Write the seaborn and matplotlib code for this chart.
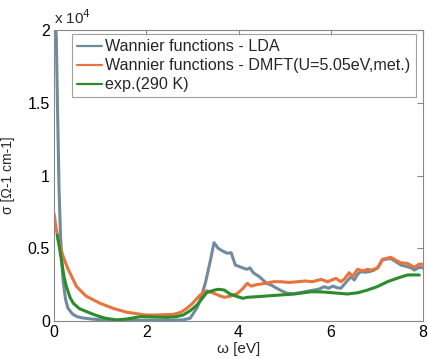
import numpy as np
import pandas as pd
import seaborn as sns
import matplotlib
matplotlib.use("Agg")
import matplotlib.pyplot as plt
from matplotlib.ticker import FuncFormatter

# LDA (Wannier functions)
lda_x = [0.02, 0.05, 0.08, 0.11, 0.14, 0.17, 0.2, 0.25, 0.3, 0.4, 0.5, 0.6, 0.8, 1.0, 1.3, 1.6, 2.0, 2.4, 2.8,
         2.95, 3.1, 3.17, 3.28, 3.38, 3.47, 3.56, 3.66, 3.76, 3.84, 3.93, 4.05, 4.18, 4.25, 4.32, 4.45, 4.61, 4.72,
         4.83, 4.95, 5.06, 5.2, 5.35, 5.5, 5.64, 5.75, 5.86, 5.95, 6.05, 6.12, 6.22, 6.3, 6.44, 6.51, 6.58, 6.65,
         6.75, 6.85, 6.94, 7.03, 7.12, 7.2, 7.3, 7.4, 7.52, 7.66, 7.75, 7.81, 7.92, 8.0]
lda_y = [21000, 19500, 14000, 9000, 6000, 4000, 2700, 1500, 900, 480, 300, 220, 140, 90, 60, 50, 50, 50, 80,
         185, 900, 1440, 2590, 4000, 5380, 4990, 4800, 4650, 4700, 3850, 3700, 3550, 3650, 3320, 3050, 2590, 2450,
         2250, 2050, 1900, 1880, 1950, 2050, 2130, 2200, 2360, 2250, 2400, 2300, 2250, 2550, 3050, 2820, 3200, 3390,
         3350, 3400, 3500, 3700, 4190, 4250, 4300, 4100, 3850, 3730, 3650, 3500, 3690, 3650]

# DMFT (U=5.05eV, met.)
dmft_x = [0.0, 0.05, 0.1, 0.2, 0.3, 0.49, 0.7, 1.0, 1.3, 1.58, 2.0, 2.3, 2.59, 2.75, 2.88, 3.0, 3.17, 3.31, 3.47,
          3.58, 3.69, 3.82, 3.98, 4.1, 4.19, 4.27, 4.4, 4.6, 4.76, 4.92, 5.1, 5.28, 5.45, 5.6, 5.79, 5.93, 6.11,
          6.22, 6.3, 6.4, 6.47, 6.58, 6.7, 6.8, 6.87, 7.01, 7.12, 7.2, 7.3, 7.4, 7.52, 7.66, 7.81, 7.92, 8.0]
dmft_y = [7400, 6300, 5500, 4420, 3600, 2360, 1700, 1215, 850, 600, 410, 420, 460, 600, 870, 1200, 1790, 2080, 1900,
          1750, 1630, 1700, 1900, 2250, 2590, 2400, 2500, 2600, 2700, 2700, 2650, 2700, 2750, 2700, 2860, 2700, 2930,
          2700, 2900, 3320, 3050, 3550, 3450, 3550, 3500, 3620, 4240, 4300, 4380, 4200, 4000, 3960, 3690, 3910, 3900]

# Experiment (290 K)
exp_x = [0.07, 0.12, 0.17, 0.22, 0.27, 0.35, 0.42, 0.55, 0.71, 0.9, 1.1, 1.36, 1.6, 1.87, 2.1, 2.44, 2.65, 2.8,
         2.95, 3.1, 3.2, 3.31, 3.45, 3.56, 3.69, 3.82, 3.95, 4.1, 4.19, 4.4, 4.65, 4.92, 5.2, 5.57, 5.8, 6.0, 6.2,
         6.36, 6.6, 6.8, 7.0, 7.23, 7.45, 7.66, 7.8, 7.92]
exp_y = [5900, 5000, 4000, 3000, 2360, 1600, 1215, 850, 640, 400, 200, 70, 150, 300, 280, 250, 300, 410,
         700, 1100, 1500, 1950, 2100, 2180, 2130, 1850, 1700, 1560, 1630, 1670, 1730, 1790, 1850, 2010, 2000, 1950, 1900,
         1855, 1950, 2130, 2350, 2700, 2950, 3160, 3170, 3160]

labels = ["Wannier functions - LDA", "Wannier functions - DMFT(U=5.05eV,met.)", "exp.(290 K)"]
colors = ["#708b9e", "#e8733c", "#2a8c2a"]

frames = []
for lab, xs, ys in zip(labels, [lda_x, dmft_x, exp_x], [lda_y, dmft_y, exp_y]):
    frames.append(pd.DataFrame({"omega": xs, "sigma": ys, "series": lab}))
df = pd.concat(frames, ignore_index=True)

sns.set_style("white")
plt.rcParams['font.family'] = ['Liberation Sans', 'DejaVu Sans']

fig = plt.figure(figsize=(4.28, 3.59), dpi=100)
ax = fig.add_axes([54 / 428, 1 - 321 / 359, 369 / 428, 291 / 359])

sns.lineplot(data=df, x="omega", y="sigma", hue="series", hue_order=labels,
             palette=colors, linewidth=2.2, sort=False, estimator=None, ax=ax)

ax.set_xlim(0, 8)
ax.set_ylim(0, 20000)
ax.set_xticks([0, 2, 4, 6, 8])
ax.set_yticks([0, 5000, 10000, 15000, 20000])
ax.yaxis.set_major_formatter(FuncFormatter(lambda v, p: "%g" % (v / 1e4)))
ax.tick_params(direction="in", length=4, color="#888888", labelsize=11.5, top=True, right=True,
               pad=3, labelcolor="black")
for s in ax.spines.values():
    s.set_color("#888888")
    s.set_linewidth(0.8)

ax.set_xlabel("ω [eV]", fontsize=11, labelpad=1)
ax.set_ylabel("σ [Ω-1 cm-1]", fontsize=10, labelpad=9)
ax.text(0.0, 1.01, "x 10$^4$", transform=ax.transAxes, fontsize=11, ha="left", va="bottom")

leg = ax.legend(loc="upper left", bbox_to_anchor=(0.05, 0.985), frameon=True, fontsize=11.6,
                handlelength=1.55, handletextpad=0.2, borderpad=0.3, labelspacing=0.25,
                borderaxespad=0, fancybox=False)
leg.get_frame().set_edgecolor("#888888")
leg.get_frame().set_linewidth(0.8)
for h in leg.get_lines():
    h.set_linewidth(1.6)

fig.savefig("out.png", dpi=100)
